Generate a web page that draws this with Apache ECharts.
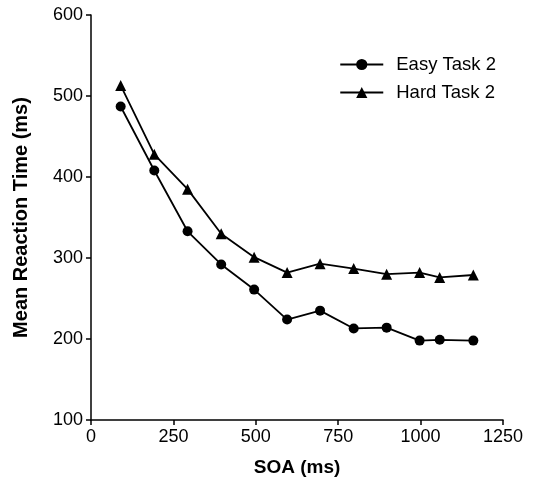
<!DOCTYPE html>
<html>
<head>
<meta charset="utf-8">
<script src="https://cdn.jsdelivr.net/npm/echarts@6/dist/echarts.min.js"></script>
<style>
  html, body { margin: 0; padding: 0; background: #fff; }
  #chart { width: 533px; height: 480px; }
</style>
</head>
<body>
<div id="chart"></div>
<script>
const soa = [90, 192, 293, 395, 495, 595, 695, 797, 897, 997, 1058, 1160]
const easyTask = [487, 408, 333, 292, 261, 224, 235, 213, 214, 198, 199, 198]
const hardTask = [513, 428, 385, 330, 301, 282, 293, 287, 280, 282, 276, 279]

const chart = echarts.init(document.getElementById('chart'))
const font = 'Liberation Sans, Arial, sans-serif'

const pair = (xs, ys) => xs.map((x, i) => [x, ys[i]])

chart.setOption({
  animation: false,
  textStyle: { fontFamily: font },
  grid: { left: 91, right: 30, top: 15, bottom: 60, outerBoundsMode: 'none', containLabel: false },
  legend: {
    top: 50,
    right: 32,
    orient: 'vertical',
    itemWidth: 43,
    itemHeight: 14,
    itemGap: 9,
    textStyle: { fontSize: 18.5, color: '#000', fontFamily: font, padding: [0, 0, 0, 8] },
    data: ['Easy Task 2', 'Hard Task 2'],
  },
  xAxis: {
    type: 'value',
    min: 0,
    max: 1250,
    interval: 250,
    name: 'SOA (ms)',
    nameLocation: 'middle',
    nameGap: 38,
    nameTextStyle: { fontSize: 19, fontWeight: 'bold', color: '#000' },
    axisLine: { lineStyle: { color: '#000', width: 1.5 } },
    axisTick: { show: true, length: 5, lineStyle: { color: '#000', width: 1.5 } },
    axisLabel: { fontSize: 18, color: '#000', margin: 8, formatter: v => String(v) },
    splitLine: { show: false },
  },
  yAxis: {
    type: 'value',
    min: 100,
    max: 600,
    interval: 100,
    name: 'Mean Reaction Time (ms)',
    nameLocation: 'middle',
    nameGap: 60,
    nameTextStyle: { fontSize: 20, fontWeight: 'bold', color: '#000' },
    axisLine: { show: true, lineStyle: { color: '#000', width: 1.5 } },
    axisTick: { show: true, length: 5, lineStyle: { color: '#000', width: 1.5 } },
    axisLabel: { fontSize: 18, color: '#000', margin: 8, formatter: v => String(v) },
    splitLine: { show: false },
  },
  series: [
    {
      name: 'Easy Task 2',
      type: 'line',
      symbol: 'circle',
      symbolSize: 10,
      itemStyle: { color: '#000' },
      lineStyle: { color: '#000', width: 1.8 },
      data: pair(soa, easyTask),
    },
    {
      name: 'Hard Task 2',
      type: 'line',
      symbol: 'triangle',
      symbolSize: 11,
      itemStyle: { color: '#000' },
      lineStyle: { color: '#000', width: 1.8 },
      data: pair(soa, hardTask),
    },
  ],
})
</script>
</body>
</html>
